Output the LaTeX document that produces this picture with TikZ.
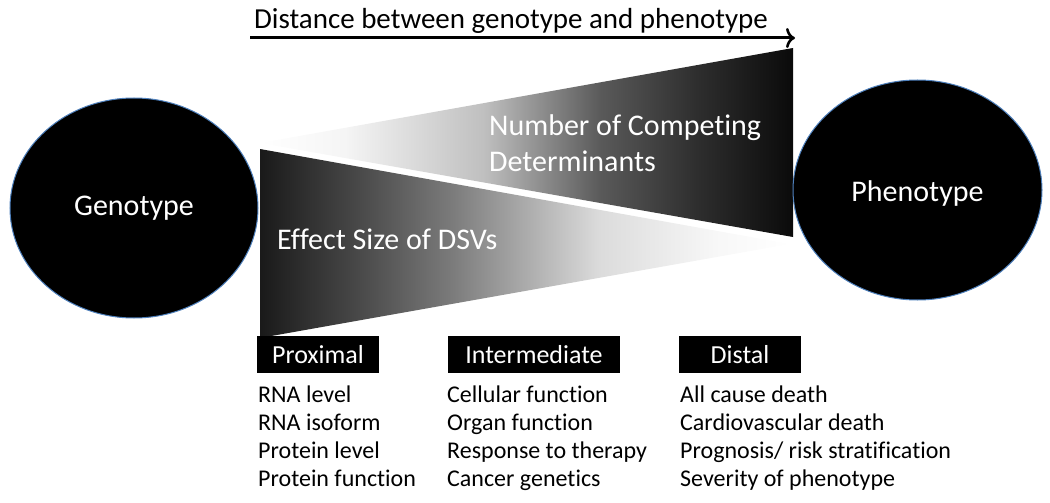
\documentclass[tikz,border=0pt]{standalone}
\usepackage{fontspec}
\setmainfont[Ligatures={NoCommon}]{Carlito}
\usetikzlibrary{shapes.geometric,arrows.meta}
\definecolor{outl}{RGB}{79,129,189}
\pgfdeclarehorizontalshading{upshade}{100bp}{color(0bp)=(white); color(25bp)=(white); color(33bp)=(white!96!black); color(46bp)=(black!25); color(57bp)=(black!65); color(66bp)=(black!82); color(75bp)=(black!96); color(100bp)=(black!96)}
\pgfdeclarehorizontalshading{downshade}{100bp}{color(0bp)=(black!90); color(25bp)=(black!90); color(35bp)=(black!70); color(43bp)=(black!52); color(57bp)=(black!14); color(68bp)=(black!3); color(75bp)=(white); color(100bp)=(white)}
\tikzset{
  blob/.style={ellipse, fill=black, draw=outl, line width=1pt, text=white,
    font=\fontsize{30}{36}\selectfont, inner sep=0pt},
  tag/.style={fill=black, text=white, font=\fontsize{26}{30}\selectfont,
    minimum height=37, inner sep=0pt},
  item/.style={anchor=base west, inner sep=0pt, font=\fontsize{24}{28}\selectfont},
  big/.style={anchor=base west, inner sep=0pt, text=white, font=\fontsize{30}{36}\selectfont},
}
\begin{document}
\begin{tikzpicture}[x=1pt,y=-1pt]
\useasboundingbox (0,0) rectangle (1050,503);
% gradient wedges
\path[shading=downshade] (260,149) -- (790,244) -- (260,338) -- cycle;
\path[shading=upshade] (260,143) -- (793,48) -- (793,237) -- cycle;
% ellipses
\node[blob, minimum width=248, minimum height=220] (geno) at (134,208) {Genotype};
\node[blob, minimum width=249, minimum height=220] (pheno) at (917.5,190) {};
\node[inner sep=0pt, text=white, font=\fontsize{30}{36}\selectfont] (phtxt) at (917.5,194) {Phenotype};
% arrow and title
\coordinate (a0) at (250,38);
\coordinate (a1) at (795,38);
\draw[line width=3pt, -{To[length=9pt,width=20pt,line width=2.6pt]}] (a0) -- (a1);
\node[anchor=base, inner sep=0pt, font=\fontsize{29}{34}\selectfont] (title) at (511,29) {Distance between genotype and phenotype};
% wedge labels
\node[big] (ncd1) at (489,135) {Number of Competing};
\node[big] (ncd2) at (489,171) {Determinants};
\node[big] (esd) at (277,249) {Effect Size of DSVs};
% category boxes
\node[tag, minimum width=122] (prox) at (318,354.5) {Proximal};
\node[tag, minimum width=172] (inter) at (534,354.5) {Intermediate};
\node[tag, minimum width=122] (dist) at (740,354.5) {Distal};
% lists
\node[item] (p1) at (258,402) {RNA level};
\node[item] (p2) at (258,430) {RNA isoform};
\node[item] (p3) at (258,458) {Protein level};
\node[item] (p4) at (258,486) {Protein function};
\node[item] (i1) at (447,402) {Cellular function};
\node[item] (i2) at (447,430) {Organ function};
\node[item] (i3) at (447,458) {Response to therapy};
\node[item] (i4) at (447,486) {Cancer genetics};
\node[item] (d1) at (680,402) {All cause death};
\node[item] (d2) at (680,430) {Cardiovascular death};
\node[item] (d3) at (680,458) {Prognosis/ risk stratification};
\node[item] (d4) at (680,486) {Severity of phenotype};
\end{tikzpicture}
\end{document}
